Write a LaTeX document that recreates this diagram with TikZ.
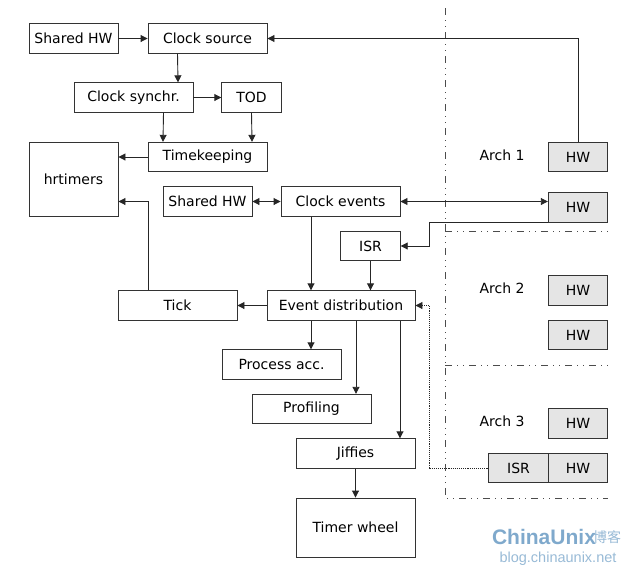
\documentclass[tikz,border=0pt]{standalone}
\usepackage{fontspec}
\setmainfont{DejaVu Sans}
\newfontfamily\cjkfont{Noto Sans CJK SC}
\newfontfamily\markfont{Liberation Sans}
\usetikzlibrary{arrows.meta}
\definecolor{markblue}{HTML}{7FA9CC}
\tikzset{
  blk/.style={draw=black!80,line width=0.9pt,minimum width=119pt,minimum height=29.5pt,inner sep=0pt,font=\fontsize{14}{16}\selectfont},
  small/.style={blk,minimum width=59.5pt},
  mid/.style={blk,minimum width=89pt},
  hw/.style={small,fill=black!10},
  arr/.style={draw=black!85,line width=0.9pt,-{Triangle[length=7pt,width=7pt]}},
  both/.style={arr,{Triangle[length=7pt,width=7pt]}-{Triangle[length=7pt,width=7pt]}},
  bound/.style={draw=black!70,line width=0.7pt,dash pattern=on 7pt off 5pt on 1pt off 5pt on 1pt off 5pt},
  lbl/.style={font=\fontsize{14}{16}\selectfont}
}
\begin{document}
\begin{tikzpicture}[x=1pt,y=-1pt]
\useasboundingbox (0,0) rectangle (624,568);
% left column
\node[mid] (shared1) at (73.5,38.5) {Shared HW};
\node[blk] (source) at (207.5,38.5) {Clock source};
\node[blk] (synchr) at (133.5,97.5) {Clock synchr.};
\node[small] (tod) at (251.5,97.5) {TOD};
\node[blk] (keeping) at (207.5,157) {Timekeeping};
\node[mid,minimum height=74pt] (hrt) at (73.5,179) {hrtimers};
\node[mid] (shared2) at (207.5,201.5) {Shared HW};
\node[blk] (events) at (340.5,201.5) {Clock events};
\node[small] (isr) at (370.5,246) {ISR};
\node[blk] (tick) at (177.5,305.5) {Tick};
\node[blk,minimum width=148pt] (dist) at (341,305.5) {Event distribution};
\node[blk] (proc) at (281.5,364.5) {Process acc.};
\node[blk] (prof) at (311.5,409) {Profiling};
\node[blk] (jiff) at (355.5,453.5) {Jiffies};
\node[blk,minimum height=59pt] (wheel) at (355.5,527.5) {Timer wheel};
% arch side
\node[lbl] (arch1) at (502,155) {Arch 1};
\node[lbl] (arch2) at (502,288) {Arch 2};
\node[lbl] (arch3) at (502,421) {Arch 3};
\node[hw] (hw1) at (578,157) {HW};
\node[hw] (hw2) at (578,207.5) {HW};
\node[hw] (hw3) at (578,290.5) {HW};
\node[hw] (hw4) at (578,335) {HW};
\node[hw] (hw5) at (578,423.5) {HW};
\node[hw] (hw6) at (578,468) {HW};
\node[hw] (isr2) at (518.5,468) {ISR};
% boundaries
\coordinate (top) at (445,8);
\coordinate (bot) at (445,498);
\draw[bound] (top) -- (bot) -- (608,498);
\draw[bound] (445,231) -- (608,231);
\draw[bound] (445,365) -- (608,365);
% connectors
\draw[arr] (shared1) -- (source);
\draw[arr] ([xshift=-30]source.south) -- ([xshift=44.5]synchr.north);
\draw[arr] (synchr) -- (tod);
\draw[arr] ([xshift=30]synchr.south) -- ([xshift=-44.5]keeping.north);
\draw[arr] (tod.south) -- ([xshift=44.5]keeping.north);
\draw[arr] (keeping) -- (keeping -| hrt.east);
\draw[arr] (hw1.north) |- (source.east);
\draw[arr] ([xshift=-29.5]tick.north) |- (shared2 -| hrt.east);
\draw[both] (shared2) -- (events);
\draw[both] (events.east) -- (events.east -| hw2.west);
\draw[arr] (hw2.south west) -- ++(-118,0) |- (isr.east);
\draw[arr] ([xshift=-29.5]events.south) -- ([xshift=-30]dist.north);
\draw[arr] (isr) -- (isr |- dist.north);
\draw[arr] (dist) -- (tick);
\draw[arr] ([xshift=-30]dist.south) -- ([xshift=29.5]proc.north);
\draw[arr] ([xshift=15]dist.south) -- ([xshift=44.5]prof.north);
\draw[arr] ([xshift=59]dist.south) -- ([xshift=44.5]jiff.north);
\draw[arr] (jiff) -- (wheel);
\draw[arr,densely dotted] (isr2.west) -- ++(-59,0) |- (dist.east);
% watermark
\node[text=markblue,font=\markfont\bfseries\fontsize{21}{24}\selectfont,inner sep=0pt] (mark1) at (544,537) {ChinaUnix};
\node[text=markblue!80,font=\cjkfont\fontsize{14}{16}\selectfont,inner sep=0pt] (mark2) at (607,537) {博客};
\node[text=markblue!80,font=\markfont\fontsize{14.5}{16}\selectfont,inner sep=0pt] (mark3) at (558,559) {blog.chinaunix.net};
\end{tikzpicture}
\end{document}
